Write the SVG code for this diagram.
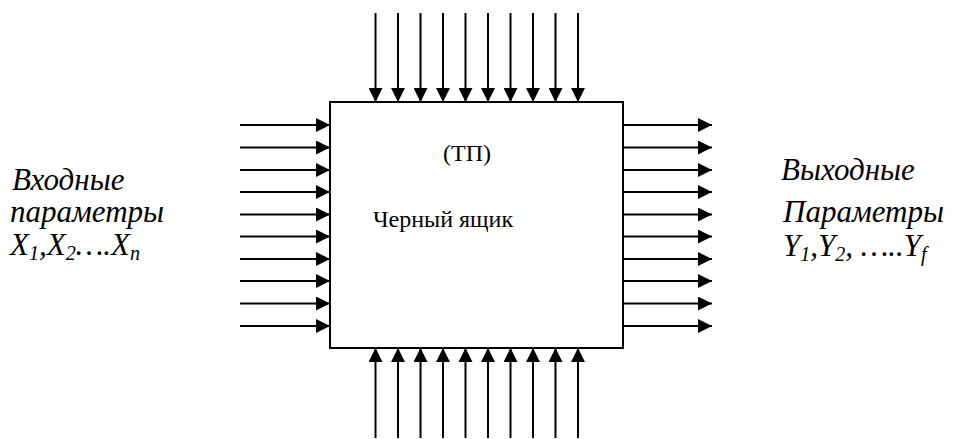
<svg xmlns="http://www.w3.org/2000/svg" width="953" height="439" viewBox="0 0 953 439">
<style>
.ln{stroke:#000;stroke-width:2;fill:none}
.box{stroke:#000;stroke-width:2;fill:#fff}
.lab{font-family:'Liberation Serif','Times New Roman','DejaVu Serif',serif;font-style:italic;font-size:31px;fill:#000}
.txt{font-family:'Liberation Serif','Times New Roman','DejaVu Serif',serif;font-size:24px;fill:#000}
.sub{font-size:20px}
</style>
<defs>
<marker id="ah" viewBox="0 0 14 14" refX="14" refY="7" markerWidth="14" markerHeight="14" markerUnits="userSpaceOnUse" orient="auto">
<path d="M0,0 L14,7 L0,14 Z" fill="#000"/>
</marker>
</defs>
<g id="connectors">
<g id="top-inputs" class="ln" marker-end="url(#ah)">
<line x1="375.5" y1="13" x2="375.5" y2="102"/>
<line x1="398" y1="13" x2="398" y2="102"/>
<line x1="420.5" y1="13" x2="420.5" y2="102"/>
<line x1="443" y1="13" x2="443" y2="102"/>
<line x1="465.5" y1="13" x2="465.5" y2="102"/>
<line x1="488" y1="13" x2="488" y2="102"/>
<line x1="510.5" y1="13" x2="510.5" y2="102"/>
<line x1="533" y1="13" x2="533" y2="102"/>
<line x1="555.5" y1="13" x2="555.5" y2="102"/>
<line x1="578" y1="13" x2="578" y2="102"/>
</g>
<g id="bottom-inputs" class="ln" marker-end="url(#ah)">
<line x1="375.5" y1="438" x2="375.5" y2="348"/>
<line x1="398" y1="438" x2="398" y2="348"/>
<line x1="420.5" y1="438" x2="420.5" y2="348"/>
<line x1="443" y1="438" x2="443" y2="348"/>
<line x1="465.5" y1="438" x2="465.5" y2="348"/>
<line x1="488" y1="438" x2="488" y2="348"/>
<line x1="510.5" y1="438" x2="510.5" y2="348"/>
<line x1="533" y1="438" x2="533" y2="348"/>
<line x1="555.5" y1="438" x2="555.5" y2="348"/>
<line x1="578" y1="438" x2="578" y2="348"/>
</g>
<g id="left-inputs" class="ln" marker-end="url(#ah)">
<line x1="240" y1="125" x2="330" y2="125"/>
<line x1="240" y1="147.5" x2="330" y2="147.5"/>
<line x1="240" y1="170" x2="330" y2="170"/>
<line x1="240" y1="192" x2="330" y2="192"/>
<line x1="240" y1="214.5" x2="330" y2="214.5"/>
<line x1="240" y1="236.5" x2="330" y2="236.5"/>
<line x1="240" y1="259" x2="330" y2="259"/>
<line x1="240" y1="281" x2="330" y2="281"/>
<line x1="240" y1="303.5" x2="330" y2="303.5"/>
<line x1="240" y1="326" x2="330" y2="326"/>
</g>
<g id="right-outputs" class="ln" marker-end="url(#ah)">
<line x1="623" y1="125" x2="712" y2="125"/>
<line x1="623" y1="147.5" x2="712" y2="147.5"/>
<line x1="623" y1="170" x2="712" y2="170"/>
<line x1="623" y1="192" x2="712" y2="192"/>
<line x1="623" y1="214.5" x2="712" y2="214.5"/>
<line x1="623" y1="236.5" x2="712" y2="236.5"/>
<line x1="623" y1="259" x2="712" y2="259"/>
<line x1="623" y1="281" x2="712" y2="281"/>
<line x1="623" y1="303.5" x2="712" y2="303.5"/>
<line x1="623" y1="326" x2="712" y2="326"/>
</g>
</g>
<g id="black-box">
<rect class="box" x="330" y="102" width="293" height="246"/>
<text class="txt" x="467" y="161" text-anchor="middle">(ТП)</text>
<text class="txt" x="373" y="227">Черный ящик</text>
</g>
<g id="inputs-label">
<text class="lab" x="12" y="190">Входные</text>
<text class="lab" x="10" y="222">параметры</text>
<text class="lab" x="10" y="255">X<tspan class="sub" dy="5">1</tspan><tspan dy="-5">,X</tspan><tspan class="sub" dy="5">2</tspan><tspan dy="-5">….X</tspan><tspan class="sub" dy="5">n</tspan></text>
</g>
<g id="outputs-label">
<text class="lab" x="781" y="180">Выходные</text>
<text class="lab" x="783" y="222">Параметры</text>
<text class="lab" x="783" y="256">Y<tspan class="sub" dy="5">1</tspan><tspan dy="-5">,Y</tspan><tspan class="sub" dy="5">2</tspan><tspan dy="-5">, …..Y</tspan><tspan class="sub" dy="5">f</tspan></text>
</g>
</svg>
